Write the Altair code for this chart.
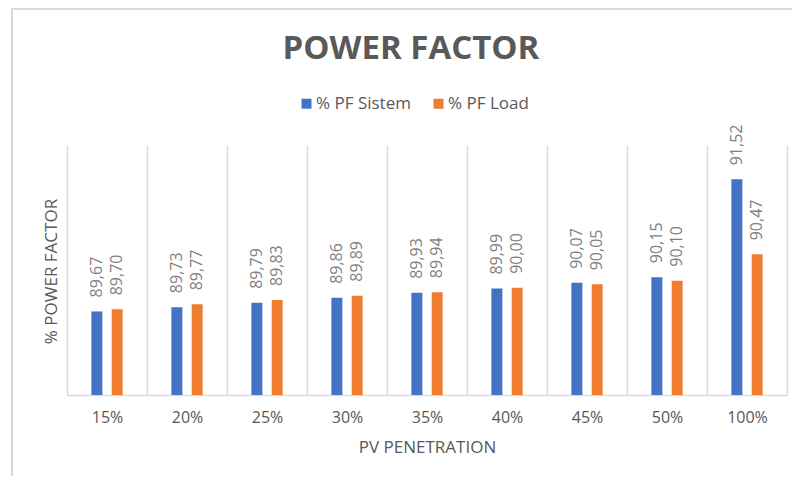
import altair as alt
import pandas as pd

categories = ["15%", "20%", "25%", "30%", "35%", "40%", "45%", "50%", "100%"]
pf_sistem = [89.67, 89.73, 89.79, 89.86, 89.93, 89.99, 90.07, 90.15, 91.52]
pf_load = [89.70, 89.77, 89.83, 89.89, 89.94, 90.00, 90.05, 90.10, 90.47]
series = ["% PF Sistem", "% PF Load"]
colors = ["#4472C4", "#ED7D31"]

rows = []
for c, a, b in zip(categories, pf_sistem, pf_load):
    rows.append({"cat": c, "series": series[0], "value": a})
    rows.append({"cat": c, "series": series[1], "value": b})
df = pd.DataFrame(rows)

FONT = "Open Sans"
GRAY = "#595959"

base = alt.Chart(df).encode(
    x=alt.X(
        "cat:N",
        sort=categories,
        title="PV PENETRATION",
        scale=alt.Scale(paddingInner=0, paddingOuter=0),
        axis=alt.Axis(
            tickBand="extent", grid=True, gridColor="#d9d9d9", gridWidth=1.5,
            ticks=False, domainColor="#d9d9d9", domainWidth=1.5,
            labelFont=FONT, labelFontSize=16, labelColor=GRAY, labelAngle=0,
            labelPadding=14,
            titleFont=FONT, titleFontSize=17, titleFontWeight="normal",
            titleColor=GRAY, titleY=52, titleBaseline="middle",
        ),
    ),
    xOffset=alt.XOffset(
        "series:N", sort=series,
        scale=alt.Scale(range=[24.4, 55.7], paddingInner=0.46, paddingOuter=0),
    ),
)

bars = base.mark_bar().encode(
    y=alt.Y(
        "value:Q",
        title="% POWER FACTOR",
        scale=alt.Scale(domain=[88.5, 92], nice=False, zero=False, clamp=True),
        axis=alt.Axis(
            labels=False, ticks=False, domain=False, grid=False,
            titleFont=FONT, titleFontSize=17, titleFontWeight="normal",
            titleColor=GRAY, titleX=-16, titleY=126, titleAngle=270,
            titleBaseline="middle", titleAlign="center",
        ),
    ),
    color=alt.Color(
        "series:N", sort=series,
        scale=alt.Scale(domain=series, range=colors),
        legend=alt.Legend(
            title=None, orient="none", legendX=231, legendY=-50,
            direction="horizontal", symbolType="square", symbolSize=100,
            symbolStrokeWidth=0, labelFont=FONT, labelFontSize=17,
            labelColor=GRAY, labelOffset=1, columnPadding=19, padding=0,
        ),
    ),
)

labels = base.transform_calculate(
    lbl="replace(format(datum.value, '.2f'), '.', ',')"
).mark_text(
    angle=270, align="left", baseline="middle", dx=14,
    font=FONT, fontSize=16, color="#7f7f7f",
).encode(
    y=alt.Y("value:Q"),
    text="lbl:N",
)

frame_df = pd.DataFrame({"a": [0]})
left_border = alt.Chart(frame_df).mark_rule(color="#d9d9d9", strokeWidth=2).encode(
    x=alt.value(-55), y=alt.value(-137), y2=alt.value(331)
)
top_border = alt.Chart(frame_df).mark_rule(color="#d9d9d9", strokeWidth=2).encode(
    x=alt.value(-55), x2=alt.value(725), y=alt.value(-136)
)

chart = alt.layer(bars, labels, left_border, top_border).properties(
    width=720,
    height=250,
    autosize=alt.AutoSizeParams(type="none"),
    padding={"left": 59, "top": 137, "right": 5, "bottom": 81},
    title=alt.TitleParams(
        "POWER FACTOR", anchor="middle", font=FONT, fontSize=33,
        fontWeight="bold", color=GRAY, dx=-16, offset=-85,
        baseline="alphabetic",
    ),
).configure_view(stroke=None)

chart.save("out.html", embed_options={"renderer": "svg", "actions": False})
